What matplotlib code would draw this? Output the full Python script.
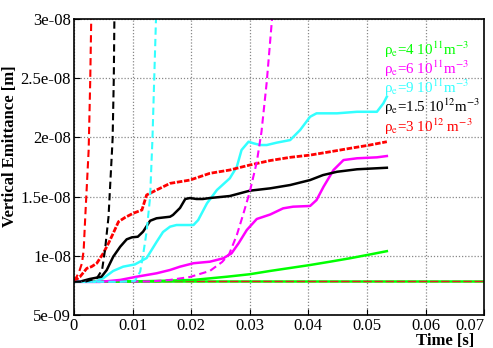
import matplotlib
matplotlib.use("Agg")
import matplotlib.pyplot as plt

plt.rcParams["font.family"] = ["Liberation Serif", "DejaVu Serif"]
plt.rcParams["mathtext.fontset"] = "stix"

# emittance values in units of 1e-9 m, time in s
t_black = [0, 0.0010, 0.0027, 0.0047, 0.0056, 0.0067, 0.0079, 0.0090, 0.0099, 0.0109, 0.0118,
           0.0130, 0.0141, 0.0164, 0.0169, 0.0181, 0.0190, 0.0198, 0.0209, 0.0220, 0.0232,
           0.0266, 0.0300, 0.0335, 0.0369, 0.0403, 0.0425, 0.0449, 0.0483, 0.0534]
e_black = [7.8, 7.81, 8.04, 8.23, 8.80, 9.92, 10.77, 11.39, 11.56, 11.61, 12.04,
           12.96, 13.17, 13.30, 13.45, 14.04, 14.80, 14.88, 14.80, 14.80, 14.88,
           15.05, 15.50, 15.70, 15.98, 16.40, 16.82, 17.10, 17.31, 17.44]

t_red = [0, 0.0010, 0.0022, 0.0030, 0.0039, 0.0050, 0.0059, 0.0067, 0.0076, 0.0087, 0.0101,
         0.0116, 0.0124, 0.0141, 0.0164, 0.0198, 0.0232, 0.0266, 0.0300, 0.0335, 0.0369,
         0.0403, 0.0437, 0.0471, 0.0505, 0.0534]
e_red = [7.85, 8.21, 8.94, 9.08, 9.37, 10.21, 11.06, 11.90, 12.88, 13.23, 13.59,
         13.87, 15.14, 15.56, 16.12, 16.40, 16.97, 17.25, 17.67, 18.05, 18.32,
         18.51, 18.79, 19.08, 19.36, 19.64]

t_cyan = [0, 0.0036, 0.0050, 0.0067, 0.0084, 0.0104, 0.0124, 0.0141, 0.0152, 0.0164, 0.0175,
          0.0204, 0.0212, 0.0227, 0.0244, 0.0266, 0.0278, 0.0286, 0.0298, 0.0306, 0.0318,
          0.0329, 0.0346, 0.0369, 0.0386, 0.0403, 0.0414, 0.0449, 0.0483, 0.0517, 0.0528, 0.0534]
e_cyan = [7.8, 7.80, 8.10, 8.72, 9.08, 9.27, 9.81, 11.17, 12.01, 12.46, 12.60,
          12.60, 13.02, 14.43, 15.56, 16.55, 17.53, 18.94, 19.64, 19.51, 19.36,
          19.36, 19.56, 19.78, 20.63, 21.75, 22.04, 22.04, 22.17, 22.17, 22.88, 23.45]

t_magenta = [0, 0.0044, 0.0079, 0.0107, 0.0141, 0.0164, 0.0181, 0.0204, 0.0232, 0.0255, 0.0269,
             0.0281, 0.0295, 0.0312, 0.0335, 0.0357, 0.0374, 0.0403, 0.0414, 0.0426, 0.0443,
             0.0460, 0.0483, 0.0517, 0.0534]
e_magenta = [7.8, 7.79, 7.96, 8.23, 8.52, 8.80, 9.08, 9.37, 9.50, 9.79, 10.21,
             11.06, 12.18, 13.11, 13.49, 14.01, 14.15, 14.21, 14.71, 15.84, 17.25,
             18.09, 18.24, 18.32, 18.43]

t_green = [0, 0.0096, 0.0147, 0.0204, 0.0261, 0.0300, 0.0335, 0.0369, 0.0403, 0.0437,
           0.0471, 0.0505, 0.0534]
e_green = [7.8, 7.83, 7.88, 7.96, 8.23, 8.44, 8.72, 8.97, 9.22, 9.50,
           9.79, 10.11, 10.39]

# dashed growth curves
t_red_d = [0, 0.0008, 0.00137, 0.00166, 0.00193, 0.00222, 0.00251, 0.00278, 0.00295, 0.00300]
e_red_d = [7.87, 8.52, 9.37, 10.49, 13.30, 16.12, 18.94, 24.85, 30.0, 31.0]

t_black_d = [0, 0.0019, 0.0039, 0.0048, 0.0053, 0.0059, 0.0062, 0.0065, 0.0066, 0.0068, 0.0069, 0.00695]
e_black_d = [7.8, 7.81, 8.10, 8.80, 10.49, 13.30, 16.12, 18.94, 19.92, 24.99, 30.0, 31.0]

t_cyan_d = [0, 0.0079, 0.0104, 0.0113, 0.0118, 0.0124, 0.0130, 0.0134, 0.0137, 0.0140, 0.0141]
e_cyan_d = [7.8, 7.8, 7.87, 8.66, 10.07, 12.04, 14.99, 19.92, 24.99, 30.0, 31.0]

t_magenta_d = [0, 0.0130, 0.0164, 0.0198, 0.0232, 0.0253, 0.0265, 0.0278, 0.0289, 0.0300,
               0.0312, 0.0320, 0.0329, 0.0338, 0.0340]
e_magenta_d = [7.8, 7.83, 7.96, 8.21, 8.72, 9.48, 10.15, 11.76, 13.53, 15.39,
               17.92, 20.46, 24.68, 30.0, 31.0]

t_flat = [0, 0.07]
e_flat = [7.86, 7.86]

labels = [r"ρ$_\mathrm{e}$=4 10$^{11}$m$^{-3}$",
          r"ρ$_\mathrm{e}$=6 10$^{11}$m$^{-3}$",
          r"ρ$_\mathrm{e}$=9 10$^{11}$m$^{-3}$",
          r"ρ$_\mathrm{e}$=1.5 10$^{12}$m$^{-3}$",
          r"ρ$_\mathrm{e}$=3 10$^{12}$ m$^{-3}$"]
label_colors = ["#00ff00", "#ff00ff", "#33ffff", "black", "#ff0000"]

xticks = [0, 0.01, 0.02, 0.03, 0.04, 0.05, 0.06, 0.07]
xticklabels = ["0", "0.01", "0.02", "0.03", "0.04", "0.05", "0.06", "0.07"]
yticks = [5e-9, 1e-8, 1.5e-8, 2e-8, 2.5e-8, 3e-8]
yticklabels = ["5e-09", "1e-08", "1.5e-08", "2e-08", "2.5e-08", "3e-08"]

def nm(vals):
    return [v * 1e-9 for v in vals]

fig = plt.figure(figsize=(4.93, 3.48), dpi=100)
ax = fig.add_axes([0.150, 0.095, 0.832, 0.850])

dash = dict(lw=1.5, dashes=(3.5, 2))
ax.plot(t_flat, nm(e_flat), color="#00ff00", lw=1.8)
ax.plot(t_flat, nm(e_flat), color="#e02020", lw=1.0, dashes=(6, 2))

ax.plot(t_green, nm(e_green), color="#00ff00", lw=1.8)
ax.plot(t_magenta, nm(e_magenta), color="#ff00ff", lw=1.8)
ax.plot(t_cyan, nm(e_cyan), color="#33ffff", lw=1.8)
ax.plot(t_black, nm(e_black), color="black", lw=1.8)
ax.plot(t_red, nm(e_red), color="#ff0000", lw=2.0, dashes=(2, 0.6))

ax.plot(t_magenta_d, nm(e_magenta_d), color="#ff00ff", **dash)
ax.plot(t_cyan_d, nm(e_cyan_d), color="#33ffff", **dash)
ax.plot(t_black_d, nm(e_black_d), color="black", **dash)
ax.plot(t_red_d, nm(e_red_d), color="#ff0000", **dash)

ax.set_xlim(0, 0.07)
ax.set_ylim(5e-9, 3e-8)
ax.set_xticks(xticks)
ax.set_xticklabels(xticklabels)
ax.set_yticks(yticks)
ax.set_yticklabels(yticklabels)
ax.tick_params(direction="in", length=4, labelsize=12, pad=2)
ax.get_xticklabels()[-1].set_horizontalalignment("right")
ax.grid(True, color="#888888", linestyle=(0, (1, 1.5)), linewidth=0.9)
for s in ax.spines.values():
    s.set_linewidth(1.2)

ax.set_ylabel("Vertical Emittance [m]", fontsize=12, fontweight="bold")
ax.yaxis.set_label_coords(-0.137, 0.57)
ax.set_xlabel("Time [s]", fontsize=12, fontweight="bold")
ax.xaxis.set_label_coords(0.905, -0.06)

y_pos = [0.897, 0.832, 0.767, 0.702, 0.637]
for lab, col, yp in zip(labels, label_colors, y_pos):
    ax.text(0.755, yp, lab, color=col, fontsize=10.8, transform=ax.transAxes, va="center")

fig.savefig("out.png", dpi=100)
